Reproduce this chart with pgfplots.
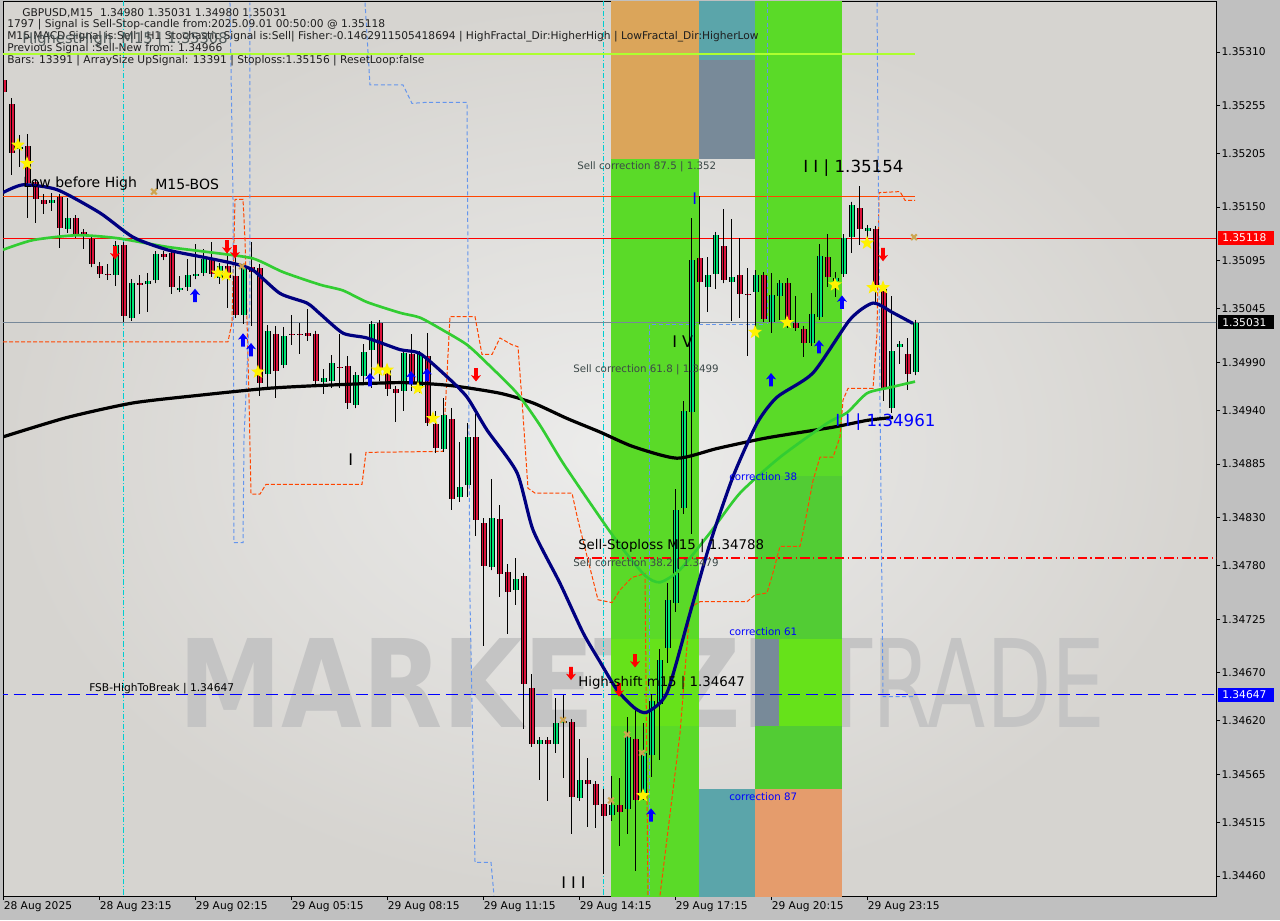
\documentclass[border=0pt]{standalone}
\usepackage{fontspec}
\setmainfont{DejaVu Sans}
\usepackage{pgfplots}
\pgfplotsset{compat=1.18}
\usepackage{pgfplotstable}

\definecolor{bgout}{RGB}{192,192,192}
\definecolor{bglight}{RGB}{236,236,235}
\definecolor{bgdark}{RGB}{214,212,208}
\definecolor{cgreen}{RGB}{0,230,118}
\definecolor{cred}{RGB}{220,20,60}
\definecolor{bandgreen}{RGB}{90,218,40}
\definecolor{bandgreenb}{RGB}{82,204,52}
\definecolor{bandgreenc}{RGB}{102,226,26}
\definecolor{bandorange}{RGB}{219,165,90}
\definecolor{bandteal}{RGB}{91,165,170}
\definecolor{bandslate}{RGB}{120,138,153}
\definecolor{bandsalmon}{RGB}{229,156,108}
\definecolor{navyma}{RGB}{0,0,128}
\definecolor{greenma}{RGB}{50,205,50}
\definecolor{oranred}{RGB}{255,69,0}
\definecolor{cornflower}{RGB}{100,149,237}
\definecolor{turq}{RGB}{0,206,209}
\definecolor{ygreen}{RGB}{173,255,47}
\definecolor{slgray}{RGB}{119,136,153}
\definecolor{tanx}{RGB}{205,165,80}
\definecolor{wmark}{RGB}{196,196,196}
\definecolor{infotxt}{RGB}{30,30,30}
\definecolor{corrtxt}{RGB}{60,72,72}

\newcommand\fs[1]{\fontsize{#1}{#1}\selectfont}

\pgfdeclareplotmark{fstar}{%
  \pgfpathmoveto{\pgfpointpolar{90}{\pgfplotmarksize}}%
  \pgfpathlineto{\pgfpointpolar{126}{0.42*\pgfplotmarksize}}%
  \pgfpathlineto{\pgfpointpolar{162}{\pgfplotmarksize}}%
  \pgfpathlineto{\pgfpointpolar{198}{0.42*\pgfplotmarksize}}%
  \pgfpathlineto{\pgfpointpolar{234}{\pgfplotmarksize}}%
  \pgfpathlineto{\pgfpointpolar{270}{0.42*\pgfplotmarksize}}%
  \pgfpathlineto{\pgfpointpolar{306}{\pgfplotmarksize}}%
  \pgfpathlineto{\pgfpointpolar{342}{0.42*\pgfplotmarksize}}%
  \pgfpathlineto{\pgfpointpolar{18}{\pgfplotmarksize}}%
  \pgfpathlineto{\pgfpointpolar{54}{0.42*\pgfplotmarksize}}%
  \pgfpathclose\pgfusepathqfill}
\pgfdeclareplotmark{uarr}{%
  \pgfpathmoveto{\pgfpoint{0pt}{\pgfplotmarksize}}%
  \pgfpathlineto{\pgfpoint{-0.75*\pgfplotmarksize}{0.05*\pgfplotmarksize}}%
  \pgfpathlineto{\pgfpoint{-0.28*\pgfplotmarksize}{0.2*\pgfplotmarksize}}%
  \pgfpathlineto{\pgfpoint{-0.28*\pgfplotmarksize}{-\pgfplotmarksize}}%
  \pgfpathlineto{\pgfpoint{0.28*\pgfplotmarksize}{-\pgfplotmarksize}}%
  \pgfpathlineto{\pgfpoint{0.28*\pgfplotmarksize}{0.2*\pgfplotmarksize}}%
  \pgfpathlineto{\pgfpoint{0.75*\pgfplotmarksize}{0.05*\pgfplotmarksize}}%
  \pgfpathclose\pgfusepathqfill}
\pgfdeclareplotmark{darr}{%
  \pgfpathmoveto{\pgfpoint{0pt}{-\pgfplotmarksize}}%
  \pgfpathlineto{\pgfpoint{-0.75*\pgfplotmarksize}{-0.05*\pgfplotmarksize}}%
  \pgfpathlineto{\pgfpoint{-0.28*\pgfplotmarksize}{-0.2*\pgfplotmarksize}}%
  \pgfpathlineto{\pgfpoint{-0.28*\pgfplotmarksize}{\pgfplotmarksize}}%
  \pgfpathlineto{\pgfpoint{0.28*\pgfplotmarksize}{\pgfplotmarksize}}%
  \pgfpathlineto{\pgfpoint{0.28*\pgfplotmarksize}{-0.2*\pgfplotmarksize}}%
  \pgfpathlineto{\pgfpoint{0.75*\pgfplotmarksize}{-0.05*\pgfplotmarksize}}%
  \pgfpathclose\pgfusepathqfill}

\pgfplotstableread{
i O H L C
0 1.35283 1.35286 1.35266 1.35270
1 1.35258 1.35264 1.35185 1.35207
2 1.35211 1.35226 1.35193 1.35213
3 1.35214 1.35226 1.35140 1.35176
4 1.35176 1.35176 1.35134 1.35158
5 1.35158 1.35165 1.35144 1.35154
6 1.35155 1.35165 1.35146 1.35158
7 1.35160 1.35160 1.35109 1.35128
8 1.35129 1.35160 1.35124 1.35140
9 1.35140 1.35140 1.35119 1.35123
10 1.35124 1.35124 1.35108 1.35122
11 1.35118 1.35118 1.35088 1.35092
12 1.35090 1.35093 1.35077 1.35082
13 1.35083 1.35092 1.35075 1.35082
14 1.35080 1.35116 1.35070 1.35111
15 1.35111 1.35111 1.35032 1.35038
16 1.35037 1.35077 1.35033 1.35073
17 1.35072 1.35082 1.35041 1.35071
18 1.35071 1.35083 1.35043 1.35074
19 1.35075 1.35104 1.35073 1.35102
20 1.35102 1.35104 1.35096 1.35099
21 1.35102 1.35102 1.35061 1.35067
22 1.35067 1.35080 1.35064 1.35068
23 1.35068 1.35097 1.35064 1.35081
24 1.35079 1.35113 1.35077 1.35082
25 1.35083 1.35108 1.35082 1.35097
26 1.35097 1.35114 1.35080 1.35082
27 1.35078 1.35092 1.35072 1.35090
28 1.35090 1.35108 1.35046 1.35077
29 1.35079 1.35109 1.35037 1.35039
30 1.35039 1.35092 1.35030 1.35088
31 1.35090 1.35115 1.35028 1.35085
32 1.35088 1.35092 1.34956 1.34969
33 1.34980 1.35028 1.34964 1.35024
34 1.35021 1.35028 1.34954 1.34983
35 1.34988 1.35027 1.34985 1.35018
36 1.35020 1.35039 1.35008 1.35019
37 1.35020 1.35031 1.34999 1.35019
38 1.35021 1.35046 1.35013 1.35018
39 1.35020 1.35021 1.34969 1.34971
40 1.34970 1.34984 1.34959 1.34974
41 1.34971 1.34997 1.34963 1.34990
42 1.34987 1.35020 1.34964 1.34986
43 1.34987 1.34997 1.34943 1.34948
44 1.34946 1.34980 1.34943 1.34977
45 1.34977 1.35010 1.34969 1.35002
46 1.35004 1.35030 1.34964 1.35030
47 1.35030 1.35030 1.34972 1.34984
48 1.34985 1.34985 1.34956 1.34963
49 1.34962 1.34964 1.34928 1.34958
50 1.34960 1.34999 1.34941 1.34999
51 1.34999 1.35020 1.34961 1.34969
52 1.34964 1.34999 1.34959 1.34999
53 1.34997 1.35021 1.34925 1.34928
54 1.34927 1.34941 1.34897 1.34903
55 1.34901 1.34953 1.34899 1.34936
56 1.34933 1.34944 1.34839 1.34851
57 1.34851 1.34908 1.34846 1.34862
58 1.34863 1.34928 1.34851 1.34913
59 1.34913 1.34938 1.34812 1.34828
60 1.34826 1.34830 1.34698 1.34781
61 1.34779 1.34870 1.34778 1.34830
62 1.34830 1.34843 1.34748 1.34774
63 1.34774 1.34782 1.34710 1.34753
64 1.34757 1.34790 1.34741 1.34768
65 1.34770 1.34773 1.34613 1.34659
66 1.34655 1.34669 1.34595 1.34598
67 1.34597 1.34601 1.34560 1.34601
68 1.34600 1.34603 1.34538 1.34596
69 1.34597 1.34644 1.34587 1.34618
70 1.34620 1.34647 1.34562 1.34621
71 1.34618 1.34620 1.34504 1.34541
72 1.34542 1.34603 1.34540 1.34561
73 1.34559 1.34582 1.34511 1.34555
74 1.34556 1.34559 1.34511 1.34535
75 1.34535 1.34551 1.34463 1.34522
76 1.34523 1.34564 1.34518 1.34533
77 1.34535 1.34562 1.34492 1.34528
78 1.34529 1.34626 1.34505 1.34603
79 1.34603 1.34633 1.34466 1.34540
80 1.34545 1.34618 1.34538 1.34587
81 1.34586 1.34649 1.34564 1.34642
82 1.34639 1.34695 1.34580 1.34684
83 1.34696 1.34763 1.34681 1.34746
84 1.34743 1.34861 1.34734 1.34839
85 1.34841 1.34951 1.34834 1.34941
86 1.34940 1.35140 1.34814 1.35097
87 1.35097 1.35162 1.35030 1.35072
88 1.35068 1.35099 1.35042 1.35080
89 1.35081 1.35123 1.35067 1.35122
90 1.35111 1.35149 1.35073 1.35076
91 1.35074 1.35139 1.35033 1.35079
92 1.35080 1.35119 1.35037 1.35060
93 1.35061 1.35088 1.34997 1.35060
94 1.35063 1.35087 1.35020 1.35081
95 1.35080 1.35080 1.35031 1.35035
96 1.35032 1.35082 1.35020 1.35060
97 1.35059 1.35075 1.35034 1.35072
98 1.35072 1.35077 1.35025 1.35030
99 1.35031 1.35059 1.35023 1.35026
100 1.35026 1.35028 1.34997 1.35011
101 1.35011 1.35062 1.35008 1.35041
102 1.35037 1.35112 1.35036 1.35100
103 1.35099 1.35123 1.35068 1.35078
104 1.35075 1.35083 1.35057 1.35078
105 1.35082 1.35123 1.35078 1.35119
106 1.35121 1.35155 1.35103 1.35154
107 1.35150 1.35172 1.35111 1.35128
108 1.35126 1.35129 1.35116 1.35129
109 1.35129 1.35129 1.35054 1.35070
110 1.35067 1.35073 1.34951 1.34964
111 1.34943 1.35059 1.34938 1.35002
112 1.35006 1.35009 1.34989 1.35009
113 1.34999 1.35016 1.34963 1.34979
114 1.34980 1.35031 1.34980 1.35031
}\candles

\pgfplotsset{
  candlebase/.style={draw=none, mark=none, forget plot,
    error bars/y dir=both, error bars/y explicit},
}

\begin{document}
\begin{tikzpicture}[x=0.75pt,y=0.75pt]
\fill[bgout] (-3,-24) rectangle (1277,896);
\begin{axis}[
  at={(0,0)}, anchor=south west,
  scale only axis, width=909.75pt, height=670.5pt,
  xmin=-0.0625, xmax=151.5625, ymin=1.344394, ymax=1.353616,
  axis background/.style={shade, shading=radial, inner color=bglight, outer color=bgdark},
  axis line style={black, line width=0.75pt},
  tick align=outside, major tick length=3pt,
  tick style={black, line width=0.75pt},
  xtick pos=left, ytick pos=right, yticklabel pos=right,
  xtick={0,12,24,36,48,60,72,84,96,108},
  xticklabels={28 Aug 2025,28 Aug 23:15,29 Aug 02:15,29 Aug 05:15,29 Aug 08:15,29 Aug 11:15,29 Aug 14:15,29 Aug 17:15,29 Aug 20:15,29 Aug 23:15},
  xticklabel style={anchor=north west, font=\fs{8}, inner sep=1pt, xshift=-1pt},
  ytick={1.35310,1.35255,1.35205,1.35150,1.35095,1.35045,1.34990,1.34940,1.34885,1.34830,1.34780,1.34725,1.34670,1.34620,1.34565,1.34515,1.34460},
  yticklabels={1.35310,1.35255,1.35205,1.35150,1.35095,1.35045,1.34990,1.34940,1.34885,1.34830,1.34780,1.34725,1.34670,1.34620,1.34565,1.34515,1.34460},
  yticklabel style={anchor=west, font=\fs{8}, inner sep=1pt},
  scaled y ticks=false,
]
% watermark
\node[anchor=south west, inner sep=0, text=wmark] at (axis cs:21.81,1.34613) {\resizebox{451.5pt}{66.75pt}{\bfseries MARKETZI}};
\node[anchor=south west, inner sep=0, text=wmark] at (axis cs:102.06,1.34613) {\resizebox{213.75pt}{66.75pt}{TRADE}};
% bands
\fill[bandorange] (axis cs:75.94,1.3537) rectangle (axis cs:86.94,1.35200);
\fill[bandgreen] (axis cs:75.94,1.35200) rectangle (axis cs:86.94,1.3443);
\fill[bandgreenc] (axis cs:75.94,1.34705) rectangle (axis cs:86.94,1.34615);
\fill[bandteal] (axis cs:86.94,1.3537) rectangle (axis cs:93.94,1.35302);
\fill[bandslate] (axis cs:86.94,1.35302) rectangle (axis cs:93.94,1.35200);
\fill[bandteal] (axis cs:86.94,1.34550) rectangle (axis cs:93.94,1.3443);
\fill[bandgreen] (axis cs:93.94,1.3537) rectangle (axis cs:104.81,1.34873);
\fill[bandgreenb] (axis cs:93.94,1.34873) rectangle (axis cs:104.81,1.34550);
\fill[bandgreenc] (axis cs:96.94,1.34705) rectangle (axis cs:104.81,1.34615);
\fill[bandslate] (axis cs:93.94,1.34705) rectangle (axis cs:96.94,1.34615);
\fill[bandsalmon] (axis cs:93.94,1.34550) rectangle (axis cs:104.81,1.3443);
% vertical cyan lines
\draw[turq, line width=0.75pt, dash pattern=on 4pt off 1.5pt on 0.75pt off 1.5pt] (axis cs:14.94,1.3443) -- (axis cs:14.94,1.3537);
\draw[turq, line width=0.75pt, dash pattern=on 4pt off 1.5pt on 0.75pt off 1.5pt] (axis cs:74.94,1.3443) -- (axis cs:74.94,1.3537);
% horizontal lines
\addplot[ygreen, line width=0.9pt, forget plot] coordinates {(-0.06,1.35308) (113.94,1.35308)};
\addplot[oranred, line width=0.9pt, forget plot] coordinates {(-0.06,1.35161) (113.94,1.35161)};
\addplot[red, line width=0.9pt, forget plot] coordinates {(-1,1.35118) (152,1.35118)};
\addplot[slgray, line width=0.9pt, forget plot] coordinates {(-1,1.35031) (152,1.35031)};
\addplot[blue, line width=0.9pt, dash pattern=on 9pt off 4.5pt, forget plot] coordinates {(-1,1.34647) (152,1.34647)};
\addplot[red, line width=0.9pt, dash pattern=on 7pt off 2.5pt on 1pt off 2.5pt, forget plot] coordinates {(71.44,1.34788) (152,1.34788)};
% dashed step lines
\addplot[oranred, line width=0.75pt, dash pattern=on 3pt off 1.5pt, forget plot] coordinates {
(-0.06,1.35011) (28.06,1.35011) (28.56,1.35031) (28.94,1.35158) (29.94,1.35158) (30.19,1.35116) (30.69,1.34951) (30.94,1.34854) (32.06,1.34854) (32.81,1.34864) (44.81,1.34864) (45.31,1.34897) (54.94,1.34898) (55.81,1.35037) (58.94,1.35037) (59.81,1.34998) (61.06,1.34998) (62.06,1.35015) (63.56,1.35008) (64.31,1.35006) (64.81,1.34951) (65.56,1.34860) (66.44,1.34855) (71.06,1.34855) (71.81,1.34827) (74.31,1.34745) (76.06,1.34742) (77.06,1.34755) (78.56,1.34768) (80.19,1.34772) (80.56,1.34440)};
\addplot[oranred, line width=0.75pt, dash pattern=on 3pt off 1.5pt, forget plot] coordinates {
(82.06,1.34440) (84.56,1.34607) (85.81,1.34737) (87.06,1.34743) (92.94,1.34743) (93.94,1.34750) (95.44,1.34752) (96.19,1.34773) (97.06,1.34800) (99.56,1.34800) (99.94,1.34814) (101.19,1.34868) (102.06,1.34892) (103.69,1.34892) (104.56,1.34913) (104.94,1.34951) (105.56,1.34963) (108.69,1.34963) (109.19,1.35020) (109.44,1.35165) (112.06,1.35166) (112.69,1.35157) (113.94,1.35157)};
\addplot[cornflower, line width=0.75pt, dash pattern=on 3pt off 2pt, forget plot] coordinates {
(28.31,1.35361) (28.69,1.35157) (28.81,1.34804) (29.94,1.34804) (30.06,1.34910) (30.81,1.35054) (30.81,1.35361)};
\addplot[cornflower, line width=0.75pt, dash pattern=on 3pt off 2pt, forget plot] coordinates {
(45.19,1.35361) (45.81,1.35276) (49.94,1.35276) (51.06,1.35257) (52.69,1.35258) (57.94,1.35258) (58.31,1.34745) (58.94,1.34474) (60.94,1.34474) (61.31,1.34440)};
\addplot[cornflower, line width=0.75pt, dash pattern=on 3pt off 2pt, forget plot] coordinates {
(80.81,1.34440) (80.81,1.35029) (94.94,1.35029)};
\addplot[cornflower, line width=0.75pt, dash pattern=on 3pt off 2pt, forget plot] coordinates {
(95.44,1.35361) (95.44,1.35029)};
\addplot[cornflower, line width=0.75pt, dash pattern=on 3pt off 2pt, forget plot] coordinates {
(109.19,1.35361) (109.56,1.34951) (109.94,1.34645) (113.94,1.34645)};
% candles: wicks
\addplot[candlebase, error bars/error mark=none,
  error bars/error bar style={draw=black, line width=0.75pt}]
  table[x=i, y expr={(\thisrow{H}+\thisrow{L})/2}, y error expr={(\thisrow{H}-\thisrow{L})/2}] {\candles};
% bodies: black base
\addplot[candlebase, error bars/error mark=-,
  error bars/error mark options={draw=black, mark size=2.25pt, line width=0.75pt},
  error bars/error bar style={draw=black, line width=4.5pt}]
  table[x=i, y expr={(\thisrow{O}+\thisrow{C})/2}, y error expr={abs(\thisrow{O}-\thisrow{C})/2}] {\candles};
% green bodies
\addplot[candlebase, restrict expr to domain={\thisrow{C}-\thisrow{O}}{0:1},
  error bars/error mark=none,
  error bars/error bar style={draw=cgreen, line width=3pt}]
  table[x=i, y expr={(\thisrow{O}+\thisrow{C})/2}, y error expr={abs(\thisrow{O}-\thisrow{C})/2}] {\candles};
% red bodies
\addplot[candlebase, restrict expr to domain={\thisrow{C}-\thisrow{O}}{-1:-0.000001},
  error bars/error mark=none,
  error bars/error bar style={draw=cred, line width=3pt}]
  table[x=i, y expr={(\thisrow{O}+\thisrow{C})/2}, y error expr={abs(\thisrow{O}-\thisrow{C})/2}] {\candles};
% body top/bottom edges
\addplot[candlebase, error bars/error mark=-,
  error bars/error mark options={draw=black, mark size=2.25pt, line width=0.75pt},
  error bars/error bar style={draw=none}]
  table[x=i, y expr={(\thisrow{O}+\thisrow{C})/2}, y error expr={abs(\thisrow{O}-\thisrow{C})/2}] {\candles};
% moving averages
\addplot[black, line width=2.4pt, smooth, tension=0.4, forget plot] coordinates {
(-0.06,1.34913) (7.94,1.34933) (16.19,1.34948) (24.56,1.34956) (32.94,1.34963) (39.56,1.34966) (49.56,1.34969) (55.81,1.34966) (62.06,1.34958) (66.19,1.34948) (70.44,1.34932) (74.56,1.34918) (78.69,1.34903) (84.19,1.34891) (89.19,1.34901) (95.44,1.34912) (103.69,1.34923) (107.94,1.34930) (111.19,1.34933)};
\addplot[greenma, line width=2pt, smooth, tension=0.4, forget plot] coordinates {
(-0.06,1.35106) (3.69,1.35116) (9.19,1.35121) (14.19,1.35118) (20.44,1.35109) (26.19,1.35103) (31.19,1.35097) (34.94,1.35083) (39.56,1.35070) (42.44,1.35064) (45.44,1.35052) (49.56,1.35041) (52.06,1.35036) (54.94,1.35023) (57.94,1.35008) (60.44,1.34989) (64.19,1.34958) (67.06,1.34925) (69.94,1.34886) (74.56,1.34830) (77.06,1.34801) (80.19,1.34770) (82.06,1.34763) (84.56,1.34776) (88.31,1.34814) (92.06,1.34855) (97.06,1.34892) (102.94,1.34927) (105.44,1.34938) (107.94,1.34958) (110.81,1.34964) (113.94,1.34970)};
\addplot[navyma, line width=2.4pt, smooth, tension=0.4, forget plot] coordinates {
(-0.06,1.35165) (2.44,1.35173) (6.69,1.35168) (12.06,1.35144) (16.19,1.35119) (20.44,1.35106) (24.56,1.35099) (28.69,1.35092) (31.19,1.35085) (34.56,1.35061) (37.94,1.35051) (39.56,1.35040) (42.44,1.35020) (45.44,1.35015) (49.56,1.35003) (52.06,1.34999) (55.44,1.34975) (57.94,1.34954) (60.44,1.34920) (64.19,1.34876) (66.19,1.34817) (69.56,1.34762) (72.44,1.34711) (74.56,1.34681) (76.69,1.34652) (78.94,1.34633) (80.44,1.34629) (82.94,1.34649) (85.81,1.34731) (88.31,1.34803) (91.19,1.34872) (94.19,1.34927) (96.69,1.34954) (101.19,1.34979) (105.81,1.35034) (108.69,1.35051) (111.19,1.35041) (113.69,1.35030)};
% markers
\addplot[only marks, mark=x, mark size=3pt, tanx, line width=1.6pt, forget plot] coordinates {
(18.81,1.35166) (29.81,1.35089) (69.94,1.34621) (75.94,1.34538) (77.94,1.34606) (79.81,1.34587) (113.81,1.35119)};
\addplot[only marks, mark=fstar, mark size=5.5pt, color=yellow, forget plot] coordinates {
(1.81,1.35214) (2.94,1.35195) (26.81,1.35082) (27.81,1.35080) (31.81,1.34980) (46.81,1.34982) (47.94,1.34982) (51.81,1.34963) (53.69,1.34932) (79.94,1.34543) (93.94,1.35021) (97.94,1.35031) (103.94,1.35070) (107.94,1.35113) (108.69,1.35067) (109.94,1.35067)};
\addplot[only marks, mark=uarr, mark size=5pt, color=blue, forget plot] coordinates {
(23.94,1.35059) (29.94,1.35013) (30.94,1.35003) (45.81,1.34972) (50.94,1.34974) (52.94,1.34977) (95.94,1.34972) (101.94,1.35006) (104.81,1.35052) (80.94,1.34523)};
\addplot[only marks, mark=darr, mark size=5pt, color=red, forget plot] coordinates {
(13.94,1.35103) (27.94,1.35109) (28.94,1.35104) (59.06,1.34977) (70.94,1.34669) (78.94,1.34682) (76.94,1.34652) (109.94,1.35101)};
\end{axis}
% price boxes on the right axis
\fill[red] (1215,651) rectangle (1271,665);
\node[anchor=west, inner sep=0, text=white, font=\fs{8}] at (1219,658) {1.35118};
\fill[black] (1215,566.5) rectangle (1271,580.5);
\node[anchor=west, inner sep=0, text=white, font=\fs{8}] at (1219,573.5) {1.35031};
\fill[blue] (1215,194) rectangle (1271,208);
\node[anchor=west, inner sep=0, text=white, font=\fs{8}] at (1219,201) {1.34647};
% info text
\begin{scope}[every node/.style={anchor=west, inner sep=0}]
\node[text=infotxt, font=\fs{8}] at (19,883) {GBPUSD,M15\ \ 1.34980 1.35031 1.34980 1.35031};
\node[text=infotxt, font=\fs{8}] at (4,871) {1797 | Signal is Sell-Stop-candle from:2025.09.01 00:50:00 @ 1.35118};
\node[text=infotxt, font=\fs{8}] at (4,859) {M15 MACD Signal is:Sell | H1 Stochastic Signal is:Sell| Fisher:-0.1462911505418694 | HighFractal\_Dir:HigherHigh | LowFractal\_Dir:HigherLow};
\node[text=infotxt, font=\fs{8}] at (4,847) {Previous Signal :Sell-New from: 1.34966};
\node[text=infotxt, font=\fs{8}] at (4,835) {Bars: 13391 | ArraySize UpSignal: 13391 | Stoploss:1.35156 | ResetLoop:false};
\node[text=corrtxt, font=\fs{11}, opacity=0.85] at (19,856) {HighestHigh\ \ M15 | 1.35308};
\node[text=black, font=\fs{10.5}] at (20,712) {Low before High};
\node[text=black, font=\fs{10.5}] at (152,712) {M15-BOS};
\node[text=corrtxt, font=\fs{7.7}] at (574,729) {Sell correction 87.5 | 1.352};
\node[text=corrtxt, font=\fs{7.7}] at (570,526) {Sell correction 61.8 | 1.3499};
\node[text=black, font=\fs{10}] at (575,350) {Sell-Stoploss M15 | 1.34788};
\node[text=corrtxt, font=\fs{7.7}] at (570,332) {Sell correction 38.2 | 1.3479};
\node[text=black, font=\fs{10}] at (575,213) {High-shift m15 | 1.34647};
\node[text=black, font=\fs{8}] at (86,207) {FSB-HighToBreak | 1.34647};
\node[text=blue, font=\fs{7.7}] at (726,419) {correction 38};
\node[text=blue, font=\fs{7.7}] at (726,264) {correction 61};
\node[text=blue, font=\fs{7.7}] at (726,99) {correction 87};
\node[text=black, font=\fs{12.5}] at (800,728) {I I | 1.35154};
\node[text=black, font=\fs{12}] at (669,554) {I V};
\node[text=blue, font=\fs{12.5}] at (832,474) {I I | 1.34961};
\node[text=black, font=\fs{12}] at (558,13) {I I I};
\node[text=black, font=\fs{12}] at (345,436) {I};
\node[text=blue, font=\fs{12}] at (689,697) {I};
\end{scope}
\pgfresetboundingbox
\path[use as bounding box] (-3,-24) rectangle (1277,896);
\end{tikzpicture}
\end{document}
